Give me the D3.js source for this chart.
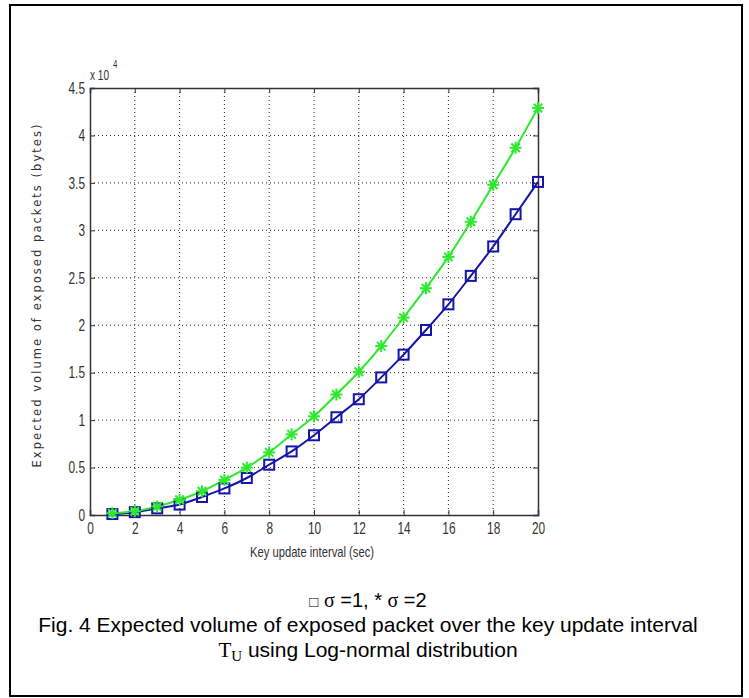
<!DOCTYPE html>
<html>
<head>
<meta charset="utf-8">
<script src="https://cdn.jsdelivr.net/npm/d3@7"></script>
<style>
  body { margin: 0; background: #fff; }
  svg { display: block; }
</style>
</head>
<body>
<svg id="fig" width="749" height="698"></svg>
<script>
// key update interval (sec)
const intervals = [1,2,3,4,5,6,7,8,9,10,11,12,13,14,15,16,17,18,19,20];
// expected volume, in units of 10^4 bytes
const sigma1 = [0.01,0.03,0.07,0.11,0.19,0.28,0.39,0.53,0.67,0.84,1.03,1.22,1.45,1.69,1.95,2.22,2.52,2.83,3.17,3.51];
const sigma2 = [0.02,0.04,0.09,0.16,0.25,0.37,0.50,0.66,0.85,1.04,1.27,1.51,1.78,2.08,2.39,2.72,3.09,3.48,3.87,4.29];
const xTicks = [0,2,4,6,8,10,12,14,16,18,20];
const yTicks = [0,0.5,1,1.5,2,2.5,3,3.5,4,4.5];

const svg = d3.select('#fig');
const tickFont = '"Liberation Sans", Arial, sans-serif';

// squeeze text horizontally, matlab's export looks condensed
function condense(sel, k) {
    sel.each(function() {
        const w = this.getComputedTextLength();
        d3.select(this)
            .attr('textLength', w * k)
            .attr('lengthAdjust', 'spacingAndGlyphs');
    });
}

// outer frame
svg.append('rect')
    .attr('x', 10).attr('y', 5)
    .attr('width', 732).attr('height', 691)
    .attr('fill', 'none')
    .attr('stroke', '#000')
    .attr('stroke-width', 2);

const plotL = 90, plotR = 538, plotT = 88, plotB = 515;

const x = d3.scaleLinear().domain([0, 20]).range([plotL, plotR]);
const y = d3.scaleLinear().domain([0, 4.5]).range([plotB, plotT]);

// grid
const grid = svg.append('g');
grid.selectAll('.gx')
    .data(xTicks.slice(1, -1))
    .enter().append('line')
        .attr('x1', d => x(d)).attr('x2', d => x(d))
        .attr('y1', plotT).attr('y2', plotB)
        .attr('stroke', '#222').attr('stroke-width', 1)
        .attr('stroke-dasharray', '1,3');
grid.selectAll('.gy')
    .data(yTicks.slice(1, -1))
    .enter().append('line')
        .attr('y1', d => y(d)).attr('y2', d => y(d))
        .attr('x1', plotL).attr('x2', plotR)
        .attr('stroke', '#222').attr('stroke-width', 1)
        .attr('stroke-dasharray', '1,3');

// axes (ticks point inward, MATLAB style)
const xAxis = svg.append('g')
    .attr('transform', `translate(0,${plotB})`)
    .call(d3.axisBottom(x).tickValues(xTicks).tickSize(-5).tickPadding(7).tickFormat(d3.format('d')));
const xTop = svg.append('g')
    .attr('transform', `translate(0,${plotT})`)
    .call(d3.axisTop(x).tickValues(xTicks).tickSize(-5).tickFormat(''));
const yAxis = svg.append('g')
    .attr('transform', `translate(${plotL},0)`)
    .call(d3.axisLeft(y).tickValues(yTicks).tickSize(-5).tickPadding(5).tickFormat(d => d));
const yRight = svg.append('g')
    .attr('transform', `translate(${plotR},0)`)
    .call(d3.axisRight(y).tickValues(yTicks).tickSize(-5).tickFormat(''));

[xAxis, xTop, yAxis, yRight].forEach(g => {
    g.select('.domain').attr('stroke', '#333').attr('stroke-width', 1.5);
    g.selectAll('.tick line').attr('stroke', '#333');
    g.selectAll('text')
        .attr('font-family', tickFont)
        .attr('font-size', 16.5)
        .attr('fill', '#333')
        .call(condense, 0.72);
});

// exponent label, squeezed with a scale so its box stays honest
const expo = svg.append('g')
    .attr('transform', 'translate(90,80) scale(0.72,1)')
    .attr('font-family', tickFont)
    .attr('fill', '#333');
expo.append('text')
    .attr('font-size', 14)
    .text('x 10');
expo.append('text')
    .attr('x', 32).attr('y', -12)
    .attr('font-size', 11)
    .text('4');

// axis labels
svg.append('text')
    .attr('x', 312).attr('y', 557)
    .attr('text-anchor', 'middle')
    .attr('font-family', tickFont)
    .attr('font-size', 14.5)
    .attr('fill', '#333')
    .attr('textLength', 124)
    .attr('lengthAdjust', 'spacingAndGlyphs')
    .text('Key update interval (sec)');

svg.append('text')
    .attr('transform', 'translate(41,296) rotate(-90)')
    .attr('text-anchor', 'middle')
    .attr('font-family', 'Verdana, "DejaVu Sans", sans-serif')
    .attr('font-size', 11.5)
    .attr('fill', '#333')
    .attr('textLength', 343)
    .attr('lengthAdjust', 'spacing')
    .text('Expected volume of exposed packets (bytes)');

// curves
const line = d3.line()
    .x((d, i) => x(intervals[i]))
    .y(d => y(d))
    .curve(d3.curveMonotoneX);

const blue = '#1414a8', green = '#2ee82e';

svg.append('path')
    .datum(sigma1)
    .attr('d', line)
    .attr('fill', 'none')
    .attr('stroke', blue)
    .attr('stroke-width', 2);

svg.append('path')
    .datum(sigma2)
    .attr('d', line)
    .attr('fill', 'none')
    .attr('stroke', green)
    .attr('stroke-width', 2);

// square markers
svg.selectAll('.sq')
    .data(sigma1)
    .enter().append('rect')
        .attr('x', (d, i) => x(intervals[i]) - 5)
        .attr('y', d => y(d) - 5)
        .attr('width', 10).attr('height', 10)
        .attr('fill', 'none')
        .attr('stroke', blue)
        .attr('stroke-width', 2);

// star markers
const star = svg.selectAll('.star')
    .data(sigma2)
    .enter().append('g')
        .attr('transform', (d, i) => `translate(${x(intervals[i])},${y(d)})`);
[0, 45, 90, 135].forEach(a => {
    star.append('line')
        .attr('x1', -6).attr('x2', 6)
        .attr('transform', `rotate(${a})`)
        .attr('stroke', green)
        .attr('stroke-width', 2);
});

// caption
const capFont = 'Arial, "Liberation Sans", sans-serif';
const serif = '"Liberation Serif", "Times New Roman", serif';
const capX = 368;

const cap1 = svg.append('text')
    .attr('x', capX).attr('y', 607)
    .attr('text-anchor', 'middle')
    .attr('font-family', capFont)
    .attr('font-size', 20)
    .attr('fill', '#000');
cap1.append('tspan').attr('font-size', 15).text('\u25A1');
cap1.append('tspan').text(' ');
cap1.append('tspan').attr('font-family', serif).text('\u03C3');
cap1.append('tspan').text(' =1, * ');
cap1.append('tspan').attr('font-family', serif).text('\u03C3');
cap1.append('tspan').text(' =2');

svg.append('text')
    .attr('x', capX).attr('y', 632)
    .attr('text-anchor', 'middle')
    .attr('font-family', capFont)
    .attr('font-size', 21)
    .attr('fill', '#000')
    .text('Fig. 4 Expected volume of exposed packet over the key update interval');

const cap3 = svg.append('text')
    .attr('x', capX).attr('y', 657)
    .attr('text-anchor', 'middle')
    .attr('font-family', capFont)
    .attr('font-size', 21)
    .attr('fill', '#000');
cap3.append('tspan').attr('font-family', serif).text('T');
cap3.append('tspan').attr('font-family', serif).attr('font-size', 15).attr('dy', 4).text('U');
cap3.append('tspan').attr('dy', -4).text(' using Log-normal distribution');
</script>
</body>
</html>
